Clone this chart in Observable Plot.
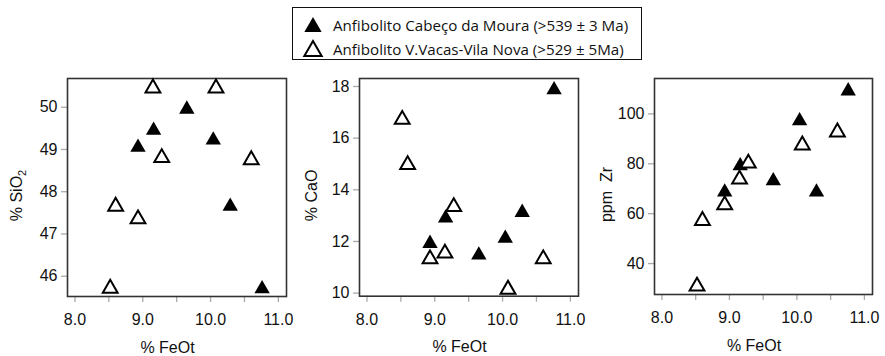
<!DOCTYPE html>
<html><head><meta charset="utf-8">
<script src="https://cdn.jsdelivr.net/npm/d3@7"></script>
<script src="https://cdn.jsdelivr.net/npm/@observablehq/plot@0.6"></script>
<style>
body{margin:0;background:#fff;}
#wrap{position:relative;width:885px;height:356px;overflow:hidden;background:#fff;}
.panel{position:absolute;top:65px;}
#legend{position:absolute;left:292px;top:7px;width:350px;height:53px;border:1px solid #111;box-sizing:border-box;font-family:"Open Sans",sans-serif;font-size:15.15px;color:#111;}
.row{position:absolute;left:9px;height:22px;display:flex;align-items:center;white-space:nowrap;}
.row svg{margin-right:9px;}
</style></head><body><div id="wrap"><div id="legend"></div></div>
<script>
// ---- data ----
const groups = ["Anfibolito Cabeço da Moura (>539 ± 3 Ma)", "Anfibolito V.Vacas-Vila Nova (>529 ± 5Ma)"];
const feotFilled = [8.93, 9.16, 9.65, 10.04, 10.29, 10.76];
const sio2Filled = [49.1, 49.5, 50.0, 49.27, 47.7, 45.75];
const caoFilled  = [12.0, 12.98, 11.55, 12.2, 13.2, 17.95];
const zrFilled   = [69.5, 80, 74, 98, 69.5, 110];
const feotOpen = [8.52, 8.6, 8.93, 9.15, 9.28, 10.08, 10.6];
const sio2Open = [45.76, 47.7, 47.4, 50.5, 48.85, 50.5, 48.8];
const caoOpen  = [16.8, 15.05, 11.4, 11.62, 13.42, 10.22, 11.4];
const zrOpen   = [31.7, 58, 64.3, 74.6, 81, 88.3, 93.5];
const xTicks = [8, 9, 10, 11];
const xMinorTicks = [8, 8.5, 9, 9.5, 10, 10.5, 11];
const xTitle = "% FeOt";
const sio2Ticks = [46, 47, 48, 49, 50];
const caoTicks = [10, 12, 14, 16, 18];
const zrTicks = [40, 60, 80, 100];
const yTitles = ["% SiO2", "% CaO", "ppm\u00a0 Zr"];

// ---- layout ----
const panels = [
  {left: 0,   ml: 67, mr: 9,  mb: 60, yDomain: [45.52, 50.68], ticks: sio2Ticks, filled: sio2Filled, open: sio2Open, title: yTitles[0], titleX: 16.7},
  {left: 295, ml: 64, mr: 12, mb: 60.3, yDomain: [9.88, 18.31], ticks: caoTicks, filled: caoFilled, open: caoOpen, title: yTitles[1], titleX: 16.7},
  {left: 590, ml: 64, mr: 13, mb: 62, yDomain: [27.6, 114.2], ticks: zrTicks, filled: zrFilled, open: zrOpen, title: yTitles[2], titleX: 16.3}
];
const xDomain = [7.89, 11.12];
const frameColor = "#333";
const tickColor = "#aaa";

const wrap = document.getElementById("wrap");
panels.forEach(p => {
  const filledData = feotFilled.map((x, i) => ({x, y: p.filled[i]}));
  const openData = feotOpen.map((x, i) => ({x, y: p.open[i]}));
  const chart = Plot.plot({
    width: 295, height: 291,
    marginLeft: p.ml, marginRight: p.mr, marginTop: 13, marginBottom: p.mb,
    style: {fontFamily: "'Liberation Sans', Arial, sans-serif", fontSize: "16px", color: "#111", background: "white"},
    x: {domain: xDomain},
    y: {domain: p.yDomain},
    marks: [
      Plot.axisX(xMinorTicks, {tickSize: 6, tickFormat: () => "", stroke: tickColor, strokeWidth: 1.3, label: null}),
      Plot.axisX(xTicks, {tickSize: 0, tickPadding: 17, tickFormat: d => d.toFixed(1), label: null, fontSize: 16}),
      Plot.axisY(p.ticks, {tickSize: 6, tickPadding: 4, stroke: tickColor, strokeWidth: 1.3, label: null, fontSize: 16}),
      Plot.frame({stroke: frameColor, strokeWidth: 1.6}),
      Plot.text([xTitle], {frameAnchor: "bottom", text: d => d, dx: -9.5, dy: 51, textAnchor: "middle", lineAnchor: "middle", fontSize: 16, fill: "#111"}),
      Plot.text([p.title], {frameAnchor: "left", text: d => d, rotate: -90, dx: -(p.ml - p.titleX), dy: 8, textAnchor: "middle", lineAnchor: "middle", fontSize: 16, fill: "#111"}),
      Plot.dot(filledData, {x: "x", y: "y", symbol: "triangle", r: 5.7, fill: "black", stroke: "none", dy: 2}),
      Plot.dot(openData, {x: "x", y: "y", symbol: "triangle", r: 5.5, fill: "white", stroke: "black", strokeWidth: 2, dy: 2})
    ]
  });
  // subscript for SiO2
  d3.select(chart).selectAll("text").each(function() {
    if (this.textContent === "% SiO2") {
      const t = d3.select(this);
      t.text("% SiO");
      t.append("tspan").attr("dy", "0.3em").attr("font-size", 11).text("2");
    }
  });
  const div = document.createElement("div");
  div.className = "panel";
  div.style.left = p.left + "px";
  div.appendChild(chart);
  wrap.appendChild(div);
});

// ---- legend ----
const legend = d3.select("#legend");
const tri = d3.symbol(d3.symbolTriangle, 130)();
groups.forEach((g, i) => {
  const row = legend.append("div").attr("class", "row").style("top", (i === 0 ? 6 : 30) + "px");
  const svg = row.append("svg").attr("width", 22).attr("height", 22);
  svg.append("path").attr("d", tri).attr("transform", "translate(11,13)")
    .attr("fill", i === 0 ? "black" : "white").attr("stroke", i === 0 ? "none" : "black").attr("stroke-width", i === 0 ? 0 : 2);
  row.append("span").text(g);
});
</script>
</body></html>
